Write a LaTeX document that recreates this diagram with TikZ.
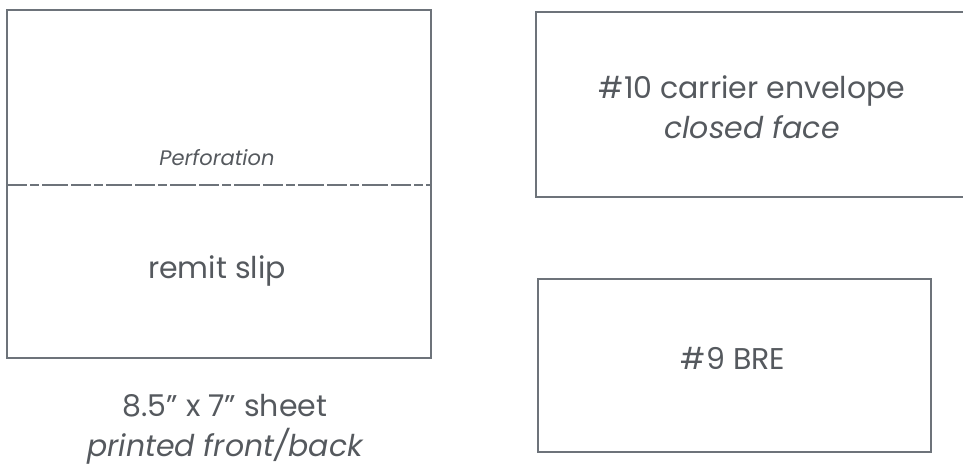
\documentclass[tikz,border=0pt]{standalone}
\usepackage{fontspec}
\setmainfont{Poppins}
\definecolor{linegray}{HTML}{6D737A}
\definecolor{textgray}{HTML}{55595E}
\begin{document}
\begin{tikzpicture}[x=1pt,y=-1pt,
  boxline/.style={draw=linegray,line width=1.6pt},
  perfline/.style={draw=linegray,line width=1.2pt,dash pattern=on 20pt off 3pt on 9pt off 3pt on 26pt off 3pt},
  lbl/.style={text=textgray,font=\fontsize{30}{40}\selectfont,inner sep=0pt},
  small/.style={text=textgray,font=\fontsize{21}{24}\selectfont\itshape,inner sep=0pt}]
\useasboundingbox (0,0) rectangle (963,473);
\clip (0,0) rectangle (963,473);
% left sheet
\coordinate (sheetTL) at (7,10);
\coordinate (sheetBR) at (431,358);
\path[boxline] (sheetTL) rectangle (sheetBR);
\coordinate (perfL) at (7,185);
\coordinate (perfR) at (431,185);
\path[perfline] (perfL) -- (perfR);
\node[small] (perf) at (217,158) {Perforation};
\node[lbl] (remit) at (217,271) {remit slip};
\node[lbl,align=center] (caption) at (225,429) {8.5” x 7” sheet\\\itshape printed front/back};
% carrier envelope
\coordinate (envTR) at (975,12);
\coordinate (envTL) at (536,12);
\coordinate (envBL) at (536,197);
\coordinate (envBR) at (975,197);
\path[boxline] (envTR) -- (envTL) -- (envBL) -- (envBR);
\node[lbl,align=center] (env) at (752,107) {\#10 carrier envelope\\\itshape closed face};
% BRE
\coordinate (breTL) at (538,279);
\coordinate (breBR) at (931,452);
\path[boxline] (breTL) rectangle (breBR);
\node[lbl] (bre) at (733,358) {\#9 BRE};
\end{tikzpicture}
\end{document}
